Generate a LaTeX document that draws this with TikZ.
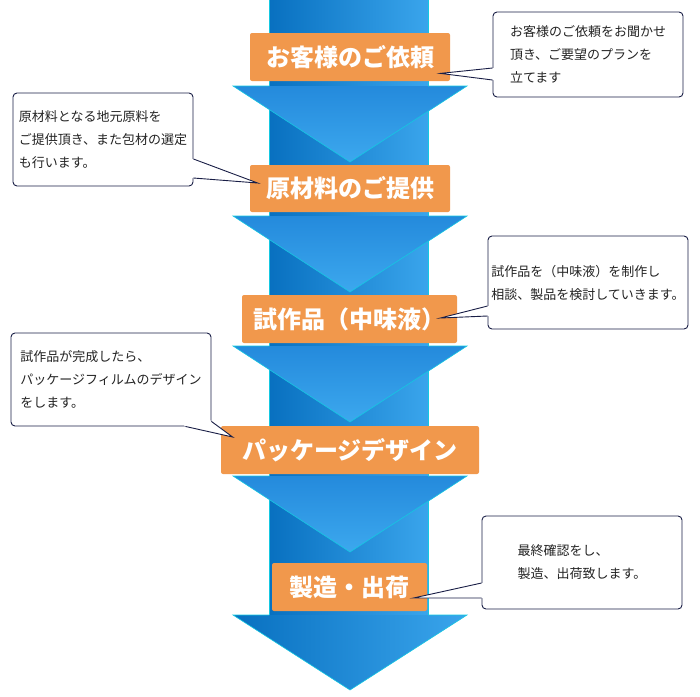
\documentclass[tikz,border=0pt]{standalone}
\usepackage{fontspec}
\newfontfamily\jpfont{Noto Sans CJK JP}
\usetikzlibrary{calc}
\definecolor{shaftL}{RGB}{8,112,192}
\definecolor{shaftR}{RGB}{58,165,236}
\definecolor{chevT}{RGB}{36,138,220}
\definecolor{chevB}{RGB}{60,168,238}
\definecolor{edgecyan}{RGB}{20,200,225}
\definecolor{stepOrange}{RGB}{241,152,76}
\definecolor{noteBorder}{RGB}{25,30,70}
\definecolor{noteText}{RGB}{35,35,35}

\begin{document}
\begin{tikzpicture}[x=1pt,y=-1pt,line width=0.8pt,
  stepbox/.style={fill=stepOrange,rounded corners=2pt,minimum height=48pt,inner sep=0pt,
    text=white,font=\jpfont\bfseries\fontsize{24}{28}\selectfont},
  notebox/.style={draw=noteBorder,fill=white,rounded corners=4pt,line width=0.9pt,
    minimum width=200pt,minimum height=93pt,inner sep=0pt,align=left,text=noteText,
    font=\jpfont\fontsize{13}{23}\selectfont},
  tailline/.style={draw=noteBorder,line width=0.9pt},
  edge/.style={draw=edgecyan,line width=0.6pt}]
\useasboundingbox (0,0) rectangle (700,696);
\def\Sl{269}\def\Sr{428}   % shaft sides
\def\Wl{233}\def\Wr{467}   % wing tips
\def\Xm{350}
\def\calltail#1#2#3#4{%
  \fill[white] ($(#1)+(#4)$) -- (#1) -- (#2) -- (#3) -- ($(#3)+(#4)$) -- cycle;
  \draw[tailline] (#1) -- (#2) -- (#3);}
% ---------- shaft ----------
\shade[left color=shaftL,right color=shaftR] (\Sl,0) rectangle (\Sr,615);
\draw[edge] (\Sl,0) -- (\Sl,615) (\Sr,0) -- (\Sr,615);
% ---------- chevrons between the steps ----------
\foreach \y in {86,216,346,476}{
  \shade[top color=chevT,bottom color=chevB] (\Wl,\y) -- (\Wr,\y) -- (\Xm,\y+76) -- cycle;
  \draw[edge] (\Sl,\y) -- (\Wl,\y) -- (\Xm,\y+76) -- (\Wr,\y) -- (\Sr,\y);
}
% ---------- arrow head ----------
\shade[left color=shaftL,right color=shaftR] (\Wl,615) -- (\Wr,615) -- (\Xm,690) -- cycle;
\draw[edge] (\Sl,615) -- (\Wl,615) -- (\Xm,690) -- (\Wr,615) -- (\Sr,615);
% ---------- steps ----------
\node[stepbox,minimum width=200pt] (s1) at (350,57) {お客様のご依頼};
\node[stepbox,minimum width=200pt,minimum height=47pt] (s2) at (350,188.5) {原材料のご提供};
\node[stepbox,minimum width=215pt] (s3) at (349.5,319) {試作品（中味液）};
\node[stepbox,minimum width=258pt] (s4) at (350,450) {パッケージデザイン};
\node[stepbox,minimum width=155pt] (s5) at (349.5,587) {製造・出荷};
% ---------- notes ----------
\node[notebox,minimum width=190pt,minimum height=85pt] (c1) at (588,54.5)
  {お客様のご依頼をお聞かせ\\頂き、ご要望のプランを\\立てます};
\node[notebox,minimum width=180pt] (c2) at (103,139.5)
  {原材料となる地元原料を\\ご提供頂き、また包材の選定\\も行います。};
\node[notebox] (c3) at (588,282.5)
  {試作品を（中味液）を制作し\\相談、製品を検討していきます。};
\node[notebox] (c4) at (111,379.5)
  {試作品が完成したら、\\パッケージフィルムのデザイン\\をします。};
\node[notebox] (c5) at (582,562.5)
  {最終確認をし、\\製造、出荷致します。};
% ---------- tails ----------
\coordinate (c1a) at ($(c1.west)+(0,13.5)$);
\coordinate (c1b) at ($(c1.west)+(0,25.5)$);
\coordinate (t1) at ($(s1.south east)+(-10,-8)$);
\calltail{c1a}{t1}{c1b}{1.5,0}
\coordinate (c2a) at ($(c2.east)+(0,19.5)$);
\coordinate (c2b) at ($(c2.east)+(0,38.5)$);
\coordinate (t2) at ($(s2.west)+(8,-5.5)$);
\calltail{c2a}{t2}{c2b}{-1.5,0}
\coordinate (c3a) at ($(c3.west)+(0,23.5)$);
\coordinate (c3b) at ($(c3.west)+(0,33.5)$);
\coordinate (t3) at ($(s3.east)+(-17,-1)$);
\calltail{c3a}{t3}{c3b}{1.5,0}
\coordinate (c4a) at ($(c4.south east)+(0,-5)$);
\coordinate (c4b) at ($(c4.south east)+(-26,0)$);
\coordinate (t4) at ($(s4.west)+(12,-13)$);
\calltail{c4a}{t4}{c4b}{-1.5,-1.5}
\coordinate (c5a) at ($(c5.west)+(0,20.5)$);
\coordinate (c5b) at ($(c5.west)+(0,35.5)$);
\coordinate (t5) at ($(s5.east)+(-14,11)$);
\calltail{c5a}{t5}{c5b}{1.5,0}
\end{tikzpicture}
\end{document}
